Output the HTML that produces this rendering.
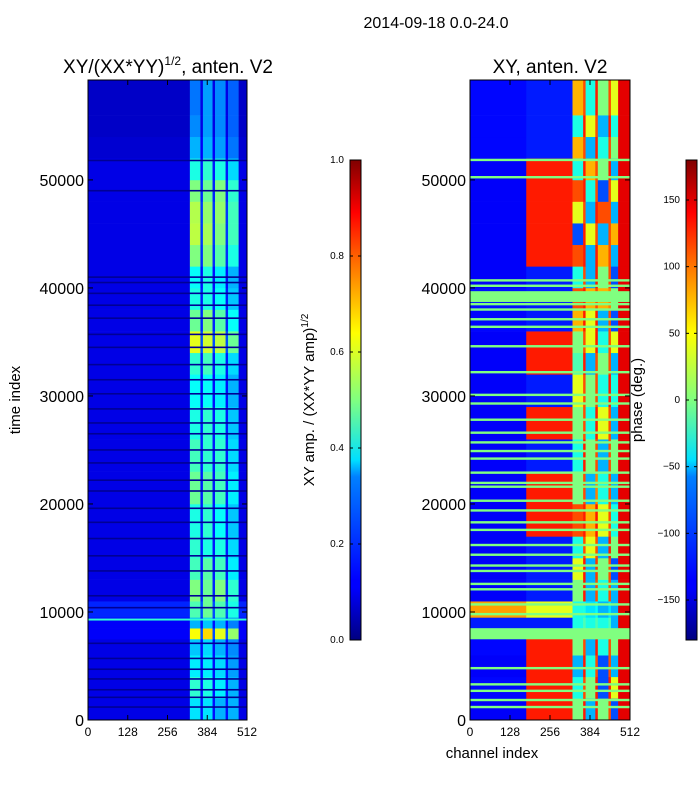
<!DOCTYPE html>
<html><head><meta charset="utf-8"><style>
body{margin:0;background:#fff;}
svg text{font-family:"Liberation Sans",sans-serif;}
</style></head><body>
<svg id="fig" width="700" height="800" xmlns="http://www.w3.org/2000/svg">
<defs>
<linearGradient id="jet" x1="0" y1="1" x2="0" y2="0">
<stop offset="0" stop-color="#000080"/><stop offset="0.11" stop-color="#0000ff"/><stop offset="0.125" stop-color="#0000ff"/>
<stop offset="0.34" stop-color="#0080ff"/><stop offset="0.375" stop-color="#00e0ff"/><stop offset="0.5" stop-color="#80ff80"/>
<stop offset="0.64" stop-color="#ffff00"/><stop offset="0.8" stop-color="#ff6000"/><stop offset="0.89" stop-color="#ff0000"/><stop offset="1" stop-color="#800000"/>
</linearGradient>
</defs>
<text x="436" y="28" font-size="16" text-anchor="middle">2014-09-18 0.0-24.0</text>
<text x="168" y="73" font-size="19" text-anchor="middle">XY/(XX*YY)<tspan font-size="12" dy="-8">1/2</tspan><tspan dy="8">, anten. V2</tspan></text>
<text x="550" y="73" font-size="19" text-anchor="middle">XY, anten. V2</text>
<text transform="translate(20,400) rotate(-90)" font-size="15" text-anchor="middle">time index</text>
<text x="492" y="758" font-size="15" text-anchor="middle">channel index</text>
<text transform="translate(314,400) rotate(-90)" font-size="15" text-anchor="middle">XY amp. / (XX*YY amp)<tspan font-size="10" dy="-6">1/2</tspan></text>
<text transform="translate(642,400) rotate(-90)" font-size="15" text-anchor="middle">phase (deg.)</text>
<g id="L"></g><g id="R"></g><g id="C"></g>
</svg>
<script>
const tEdges=[0,2000,4000,6000,7500,8500,9500,11000,13000,15000,17000,20000,23000,26000,29000,32000,34000,36000,38000,40000,42000,44000,46000,48000,50000,52000,54000,56000,59250];
const leftColEdges=[0,328,362,370,401,409,443,451,485,512];
const leftVals=[
[0.1,0.35,0.14,0.35,0.14,0.3,0.14,0.3,0.1],
[0.1,0.42,0.14,0.4,0.14,0.36,0.14,0.3,0.1],
[0.1,0.36,0.14,0.36,0.14,0.34,0.14,0.28,0.1],
[0.1,0.32,0.14,0.34,0.14,0.3,0.14,0.26,0.1],
[0.12,0.62,0.2,0.66,0.2,0.6,0.2,0.52,0.12],
[0.12,0.3,0.14,0.32,0.14,0.3,0.14,0.25,0.12],
[0.16,0.45,0.2,0.48,0.2,0.45,0.2,0.4,0.16],
[0.1,0.5,0.16,0.48,0.16,0.5,0.16,0.42,0.1],
[0.1,0.44,0.15,0.46,0.15,0.44,0.15,0.36,0.1],
[0.1,0.42,0.15,0.4,0.15,0.4,0.15,0.34,0.1],
[0.1,0.4,0.15,0.42,0.15,0.38,0.15,0.32,0.1],
[0.1,0.48,0.15,0.46,0.15,0.44,0.15,0.36,0.1],
[0.1,0.44,0.15,0.42,0.15,0.42,0.15,0.34,0.1],
[0.1,0.4,0.15,0.42,0.15,0.4,0.15,0.32,0.1],
[0.1,0.38,0.14,0.38,0.14,0.36,0.14,0.3,0.1],
[0.1,0.42,0.15,0.44,0.15,0.4,0.15,0.34,0.1],
[0.1,0.6,0.2,0.58,0.2,0.56,0.2,0.48,0.1],
[0.1,0.48,0.16,0.5,0.16,0.46,0.16,0.38,0.1],
[0.1,0.4,0.15,0.4,0.15,0.38,0.15,0.32,0.1],
[0.1,0.38,0.14,0.4,0.14,0.36,0.14,0.3,0.1],
[0.1,0.5,0.17,0.5,0.17,0.46,0.17,0.4,0.1],
[0.1,0.56,0.18,0.54,0.18,0.5,0.18,0.44,0.1],
[0.1,0.55,0.18,0.52,0.18,0.52,0.18,0.44,0.1],
[0.1,0.5,0.16,0.48,0.16,0.5,0.16,0.42,0.1],
[0.1,0.4,0.15,0.42,0.15,0.4,0.15,0.34,0.1],
[0.08,0.3,0.12,0.3,0.12,0.28,0.12,0.24,0.08],
[0.07,0.26,0.1,0.28,0.1,0.26,0.1,0.22,0.07],
[0.07,0.24,0.1,0.28,0.1,0.26,0.1,0.22,0.07]];
const leftDarkLines=[1200,2100,2800,3800,4700,5700,7100,10400,11500,13800,15200,16800,18300,19600,21200,22200,23800,25000,26500,27500,28800,30200,31500,32900,34500,35700,37200,38400,39500,40500,41000,49000,51800];
const leftCyanLines=[9300];
const rightColEdges=[0,180,328,362,370,401,409,443,451,474,512];
const rightVals=[
[0.12,0.85,0.5,0.85,0.3,0.85,0.5,0.8,0.2,0.9],
[0.13,0.85,0.4,0.8,0.5,0.85,0.2,0.85,0.6,0.9],
[0.12,0.85,0.3,0.85,0.4,0.8,0.2,0.8,0.3,0.9],
[0.13,0.85,0.5,0.8,0.3,0.85,0.4,0.8,0.5,0.9],
[0.5,0.5,0.5,0.5,0.5,0.5,0.5,0.5,0.5,0.5],
[0.15,0.15,0.4,0.45,0.4,0.45,0.4,0.45,0.3,0.9],
[0.72,0.6,0.4,0.4,0.35,0.38,0.3,0.35,0.3,0.9],
[0.12,0.15,0.5,0.85,0.3,0.8,0.4,0.8,0.3,0.9],
[0.12,0.15,0.6,0.85,0.3,0.82,0.5,0.8,0.2,0.9],
[0.12,0.15,0.4,0.8,0.6,0.8,0.3,0.85,0.5,0.9],
[0.12,0.85,0.8,0.85,0.7,0.85,0.6,0.8,0.4,0.9],
[0.12,0.85,0.5,0.8,0.3,0.75,0.4,0.8,0.3,0.9],
[0.12,0.15,0.4,0.85,0.5,0.8,0.3,0.8,0.5,0.9],
[0.12,0.85,0.5,0.8,0.4,0.85,0.6,0.8,0.3,0.9],
[0.12,0.15,0.6,0.8,0.5,0.8,0.4,0.85,0.4,0.9],
[0.12,0.85,0.45,0.85,0.3,0.8,0.5,0.8,0.3,0.9],
[0.12,0.85,0.5,0.8,0.6,0.85,0.4,0.8,0.6,0.9],
[0.13,0.15,0.7,0.85,0.6,0.85,0.3,0.8,0.2,0.9],
[0.14,0.15,0.8,0.85,0.7,0.8,0.7,0.75,0.5,0.9],
[0.12,0.15,0.4,0.8,0.3,0.85,0.5,0.8,0.2,0.9],
[0.12,0.85,0.8,0.85,0.3,0.85,0.7,0.8,0.3,0.9],
[0.12,0.85,0.2,0.85,0.6,0.8,0.3,0.8,0.7,0.9],
[0.12,0.85,0.6,0.8,0.3,0.85,0.8,0.8,0.3,0.9],
[0.12,0.85,0.8,0.85,0.4,0.8,0.2,0.8,0.6,0.9],
[0.12,0.85,0.4,0.85,0.7,0.8,0.5,0.85,0.3,0.9],
[0.13,0.15,0.7,0.8,0.3,0.85,0.4,0.8,0.5,0.9],
[0.13,0.15,0.4,0.85,0.6,0.8,0.3,0.85,0.4,0.9],
[0.13,0.15,0.7,0.8,0.4,0.85,0.5,0.8,0.6,0.9]];
const rightGreenLines=[1200,1850,2700,3300,4800,9800,10700,12100,12600,13800,14300,15300,16200,17600,18300,19400,20300,21600,21950,22900,24200,24900,25700,26600,27800,29300,30100,32200,34600,36400,37100,38000,38500,39300,40200,40700,50250,51850];
const rightGreenThick=[[7600,8500],[38700,39700]];
const leftTicks=[0,10000,20000,30000,40000,50000];
const xTickLabels=[0,128,256,384,512];
const ampTicks=[0.0,0.2,0.4,0.6,0.8,1.0];
const phaseTicks=[-150,-100,-50,0,50,100,150];
const NS="http://www.w3.org/2000/svg";
const TMAX=59250;
function jet(v){const c=x=>Math.round(255*Math.max(0,Math.min(1,x)));return `rgb(${c(1.5-Math.abs(4*v-3))},${c(1.5-Math.abs(4*v-2))},${c(1.5-Math.abs(4*v-1))})`;}
function mk(p,tag,a){const e=document.createElementNS(NS,tag);for(const k in a)e.setAttribute(k,a[k]);p.appendChild(e);return e;}
function panel(g,x0,x1,colEdges,vals,name){
 const xs=c=>x0+c*(x1-x0)/512, ys=t=>720-t*640/TMAX;
 for(let r=0;r<vals.length;r++)for(let c=0;c<vals[r].length;c++){
  const e=mk(g,'rect',{x:xs(colEdges[c]),y:ys(tEdges[r+1]),width:xs(colEdges[c+1])-xs(colEdges[c])+0.3,height:ys(tEdges[r])-ys(tEdges[r+1])+0.3,fill:jet(vals[r][c])});
  
  
 }
 return {xs,ys};
}
function axes(g,x0,x1,sx,sy,name){
 const f=mk(g,'rect',{x:x0,y:80,width:x1-x0,height:640,fill:'none',stroke:'#000','stroke-width':1});
 
 
 leftTicks.forEach(t=>{const y=sy(t);mk(g,'line',{x1:x0,x2:x0+5,y1:y,y2:y,stroke:'#000'});mk(g,'line',{x1:x1,x2:x1-5,y1:y,y2:y,stroke:'#000'});
  const tx=mk(g,'text',{x:x0-4,y:y+6,'font-size':16,'text-anchor':'end'});tx.textContent=t;
  
  });
 xTickLabels.forEach(c=>{const x=sx(c);mk(g,'line',{x1:x,x2:x,y1:720,y2:715,stroke:'#000'});mk(g,'line',{x1:x,x2:x,y1:80,y2:85,stroke:'#000'});
  const tx=mk(g,'text',{x:x,y:736,'font-size':12,'text-anchor':'middle'});tx.textContent=c;
  
  });
}
const L=document.getElementById('L'),R=document.getElementById('R'),C=document.getElementById('C');
const pl=panel(L,88,247,leftColEdges,leftVals,'amp-heatmap');
leftDarkLines.forEach(t=>{const e=mk(L,'rect',{x:88,y:pl.ys(t)-0.8,width:159,height:1.6,fill:jet(0.02)});});
leftCyanLines.forEach(t=>{const e=mk(L,'rect',{x:88,y:pl.ys(t)-1,width:159,height:2,fill:jet(0.42)});});
axes(L,88,247,pl.xs,pl.ys,'amp-axes');
const pr=panel(R,470,630,rightColEdges,rightVals,'phase-heatmap');
rightGreenLines.forEach(t=>{const e=mk(R,'rect',{x:470,y:pr.ys(t)-1.2,width:160,height:2.4,fill:jet(0.5)});});
rightGreenThick.forEach(b=>{const e=mk(R,'rect',{x:470,y:pr.ys(b[1]),width:160,height:pr.ys(b[0])-pr.ys(b[1]),fill:jet(0.5)});});
axes(R,470,630,pr.xs,pr.ys,'phase-axes');
function cbar(x,ticks,lo,hi,fmt,name){
 const b=mk(C,'rect',{x:x,y:160,width:11,height:480,fill:'url(#jet)',stroke:'#000'});
 
 
 ticks.forEach(t=>{const y=640-(t-lo)/(hi-lo)*480;mk(C,'line',{x1:x,x2:x+3,y1:y,y2:y,stroke:'#000'});mk(C,'line',{x1:x+11,x2:x+8,y1:y,y2:y,stroke:'#000'});
  const tx=mk(C,'text',{x:x-6,y:y+3,'font-size':10,'text-anchor':'end'});tx.textContent=fmt(t);
  
  });
}
cbar(350,ampTicks,0,1,t=>t.toFixed(1),'amp-colorbar');
cbar(686,phaseTicks,-180,180,t=>t<0?'\u2212'+(-t):''+t,'phase-colorbar');
</script>
</body></html>
